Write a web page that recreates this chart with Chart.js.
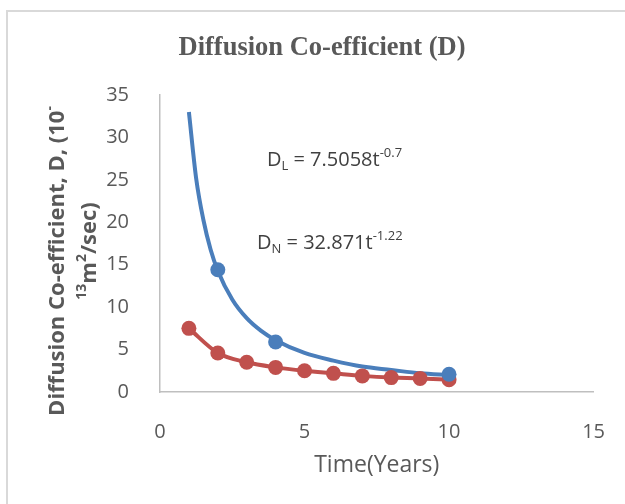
<!DOCTYPE html>
<html>
<head>
<meta charset="utf-8">
<script src="https://cdn.jsdelivr.net/npm/chart.js@4"></script>
<style>
html,body{margin:0;padding:0;background:#fff;}
#wrap{width:625px;height:504px;position:relative;}
</style>
</head>
<body>
<div id="wrap"><canvas id="c" width="625" height="504"></canvas></div>
<script>
// Data
const xTicks = [0, 5, 10, 15];
const yTicks = [0, 5, 10, 15, 20, 25, 30, 35];
const chartTitle = "Diffusion Co-efficient (D)";
const xTitle = "Time(Years)";

// Blue (D_N) fitted curve
const curveNT = [1, 1.25, 1.5, 1.75, 2, 2.5, 3, 3.5, 4, 5, 6, 7, 8, 9, 10];
const curveND = [33.0, 25.2, 20.3, 16.8, 14.3, 10.9, 8.7, 7.2, 6.1, 4.6, 3.7, 3.0, 2.6, 2.2, 2.0];
// Blue markers
const pointsNT = [2, 4, 10];
const pointsND = [14.4, 5.9, 2.1];
// Red (D_L) markers joined by a smooth line
const pointsLT = [1, 2, 3, 4, 5, 6, 7, 8, 9, 10];
const pointsLD = [7.5, 4.6, 3.5, 2.9, 2.5, 2.2, 1.9, 1.7, 1.6, 1.45];

const eqL = {base: "D", sub: "L", rest: " = 7.5058t", sup: "-0.7"};
const eqN = {base: "D", sub: "N", rest: " = 32.871t", sup: "-1.22"};

const blue = "#4a7ebb";
const red = "#c0504d";
const textCol = "#595959";
const sansFont = "'Open Sans', 'Liberation Sans', sans-serif";

const toXY = (xs, ys) => xs.map((x, i) => ({x: x, y: ys[i]}));

const decor = {
  id: 'decor',
  beforeDraw(chart) {
    const ctx = chart.ctx;
    ctx.save();
    ctx.fillStyle = '#ffffff';
    ctx.fillRect(0, 0, chart.width, chart.height);
    ctx.strokeStyle = '#d9d9d9';
    ctx.lineWidth = 2;
    ctx.strokeRect(7, 11, 700, 600);
    ctx.restore();
  },
  afterDraw(chart) {
    const ctx = chart.ctx;
    ctx.save();
    // Chart title
    ctx.fillStyle = textCol;
    ctx.font = "bold 26.5px 'Liberation Serif', 'Times New Roman', serif";
    ctx.textAlign = 'center';
    ctx.textBaseline = 'middle';
    ctx.fillText(chartTitle, 322, 48);

    // Y-axis title (rotated, two lines)
    const big = "bold 22px " + sansFont;
    const small = "bold 14px " + sansFont;
    ctx.save();
    ctx.translate(64, 261);
    ctx.rotate(-Math.PI / 2);
    ctx.fillStyle = textCol;
    ctx.textBaseline = 'alphabetic';
    ctx.textAlign = 'left';
    ctx.font = big;
    const l1a = "Diffusion Co-efficient, D, (10";
    const w1a = ctx.measureText(l1a).width;
    ctx.font = small;
    const w1b = ctx.measureText("-").width;
    const w1 = w1a + w1b;
    ctx.font = big;
    ctx.fillText(l1a, -w1 / 2, 0);
    ctx.font = small;
    ctx.fillText("-", -w1 / 2 + w1a, -10);
    ctx.restore();

    ctx.save();
    ctx.translate(96, 251);
    ctx.rotate(-Math.PI / 2);
    ctx.fillStyle = textCol;
    ctx.textBaseline = 'alphabetic';
    ctx.textAlign = 'left';
    ctx.font = small;
    const s13 = ctx.measureText("13").width;
    const s2 = ctx.measureText("2").width;
    ctx.font = big;
    const wm = ctx.measureText("m").width;
    const wr = ctx.measureText("/sec)").width;
    const w2 = s13 + wm + s2 + wr;
    let px = -w2 / 2;
    ctx.font = small; ctx.fillText("13", px, -10); px += s13;
    ctx.font = big; ctx.fillText("m", px, 0); px += wm;
    ctx.font = small; ctx.fillText("2", px, -10); px += s2;
    ctx.font = big; ctx.fillText("/sec)", px, 0);
    ctx.restore();

    // Equations
    const drawEq = (eq, x, y) => {
      ctx.save();
      ctx.fillStyle = '#404040';
      ctx.textAlign = 'left';
      ctx.textBaseline = 'alphabetic';
      const f = "20px " + sansFont;
      const fs = "13px " + sansFont;
      let p = x;
      ctx.font = f; ctx.fillText(eq.base, p, y); p += ctx.measureText(eq.base).width;
      ctx.font = fs; ctx.fillText(eq.sub, p, y + 4); p += ctx.measureText(eq.sub).width;
      ctx.font = f; ctx.fillText(eq.rest, p, y); p += ctx.measureText(eq.rest).width;
      ctx.font = fs; ctx.fillText(eq.sup, p, y - 9);
      ctx.restore();
    };
    drawEq(eqL, 267, 166);
    drawEq(eqN, 257, 249);
    ctx.restore();
  }
};

new Chart(document.getElementById('c'), {
  type: 'scatter',
  data: {
    datasets: [
      {
        label: 'DN fit',
        data: toXY(curveNT, curveND),
        showLine: true,
        borderColor: blue,
        borderWidth: 4,
        pointRadius: 0,
        cubicInterpolationMode: 'monotone',
        order: 3
      },
      {
        label: 'DL',
        data: toXY(pointsLT, pointsLD),
        showLine: true,
        borderColor: red,
        backgroundColor: red,
        borderWidth: 4,
        pointRadius: 7.5,
        pointBorderWidth: 0,
        pointBackgroundColor: red,
        cubicInterpolationMode: 'monotone',
        order: 2
      },
      {
        label: 'DN',
        data: toXY(pointsNT, pointsND),
        showLine: false,
        backgroundColor: blue,
        pointRadius: 7.5,
        pointBorderWidth: 0,
        pointBackgroundColor: blue,
        order: 1
      }
    ]
  },
  options: {
    responsive: false,
    animation: false,
    layout: {padding: {top: 95, right: 31, bottom: 0, left: 0}},
    plugins: {
      legend: {display: false},
      title: {display: false},
      tooltip: {enabled: false}
    },
    scales: {
      x: {
        type: 'linear',
        min: xTicks[0],
        max: xTicks[xTicks.length - 1],
        afterBuildTicks: (s) => { s.ticks = xTicks.map(v => ({value: v})); },
        afterFit: (s) => { s.height = 112; },
        grid: {display: false},
        border: {display: true, color: '#bfbfbf', width: 1.5},
        ticks: {color: textCol, font: {size: 20, family: sansFont}, padding: 20},
        title: {display: true, text: xTitle, color: textCol,
                font: {size: 23, family: sansFont}, padding: {top: 0, bottom: 25}}
      },
      y: {
        min: yTicks[0],
        max: yTicks[yTicks.length - 1],
        afterBuildTicks: (s) => { s.ticks = yTicks.map(v => ({value: v})); },
        afterFit: (s) => { s.width = 160; },
        grid: {display: false},
        border: {display: true, color: '#bfbfbf', width: 1.5},
        ticks: {color: textCol, font: {size: 20, family: sansFont}, padding: 23}
      }
    }
  },
  plugins: [decor]
});
</script>
</body>
</html>
